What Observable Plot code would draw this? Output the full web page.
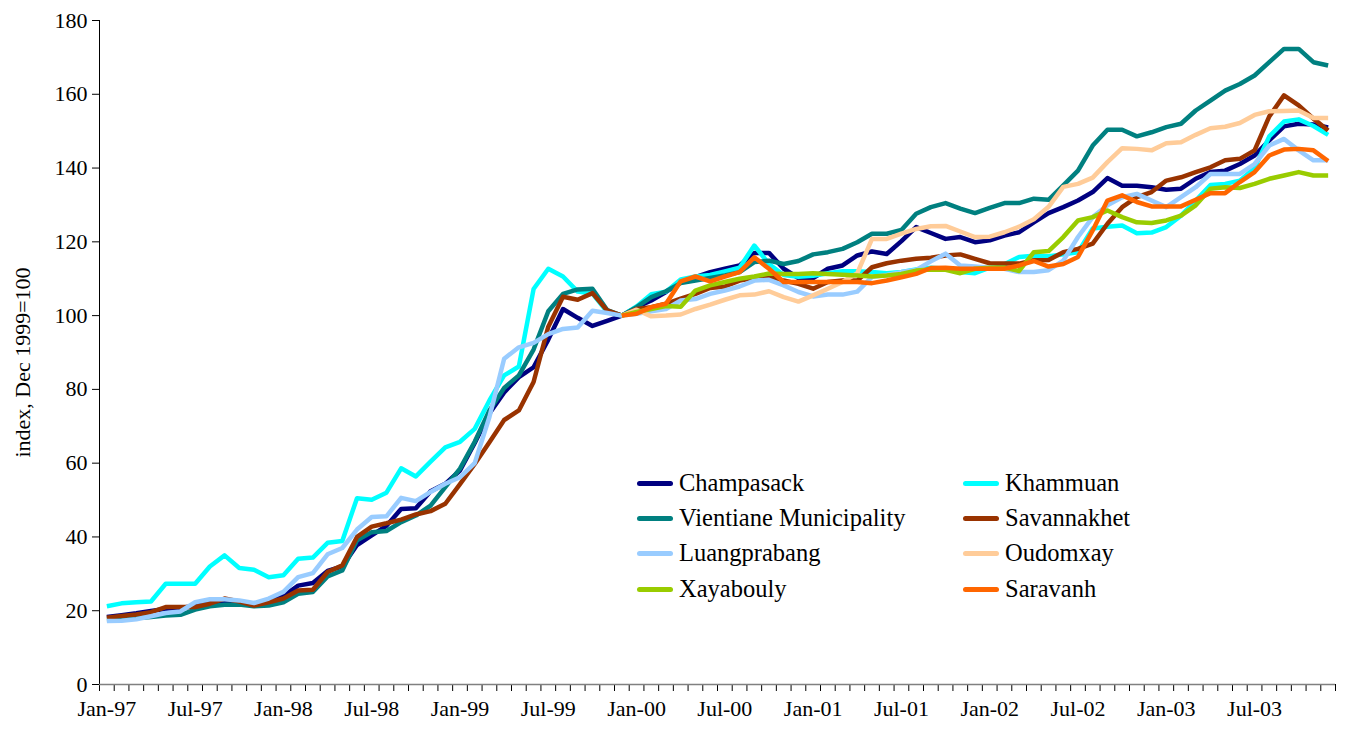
<!DOCTYPE html>
<html><head><meta charset="utf-8">
<script src="https://cdn.jsdelivr.net/npm/d3@7"></script>
<script src="https://cdn.jsdelivr.net/npm/@observablehq/plot@0.6"></script>
<style>
body{margin:0;background:#fff;}
#wrap{position:relative;width:1346px;height:738px;font-family:"Times New Roman",Tinos,"Liberation Serif","DejaVu Serif",serif;}
#wrap svg, #wrap svg text{font-family:"Times New Roman",Tinos,"Liberation Serif","DejaVu Serif",serif !important;}
.leg{position:absolute;display:flex;align-items:center;font-size:24.5px;color:#000;white-space:nowrap;transform:translateY(-50%);}
.leg .sw{width:36px;height:5px;border-radius:3px;margin-right:6px;}
</style></head><body><div id="wrap"></div>
<script>
// Monthly categories Jan-97 .. Dec-03
const months = d3.utcMonths(new Date(Date.UTC(1997,0,1)), new Date(Date.UTC(2004,0,1))).map(d3.utcFormat("%b-%y"));
const tickLabels = ["Jan-97","Jul-97","Jan-98","Jul-98","Jan-99","Jul-99","Jan-00","Jul-00","Jan-01","Jul-01","Jan-02","Jul-02","Jan-03","Jul-03"];
const yTicks = [0,20,40,60,80,100,120,140,160,180];
const yTitle = "index, Dec 1999=100";

const seriesNames = ["Champasack","Khammuan","Vientiane Municipality","Savannakhet","Luangprabang","Oudomxay","Xayabouly","Saravanh"];
const seriesColors = ["#000080","#00FFFF","#008080","#993300","#99CCFF","#FFCC99","#99CC00","#FF6600"];
// first month of each series in the months list
const seriesStart = ["Jan-97","Jan-97","Jan-97","Jan-97","Jan-97","Dec-99","Dec-99","Dec-99"];

const champasack = [18.3,18.8,19.3,19.9,20.5,20.8,21.2,22.5,22.3,22.2,21.6,22.6,24.0,26.8,27.5,30.8,32.0,37.8,40.4,43.0,47.6,47.8,52.4,54.4,58.0,65.5,73.5,79.2,83.3,86.0,93.5,101.8,99.4,97.2,98.6,100,
 102.3,104.1,106.4,109.1,110.4,111.8,112.7,113.6,117.0,117.0,112.7,110.2,110.2,112.7,113.6,116.3,117.4,116.7,120.2,124.0,122.4,120.8,121.3,119.9,120.4,121.7,122.6,125.3,127.8,129.4,131.2,133.5,137.3,135.2,135.2,134.8,134.1,134.4,137.1,138.9,139.3,141.1,143.4,147.5,151.3,152.0,151.8,151.0];
const khammuan = [21.2,22.0,22.3,22.5,27.3,27.3,27.3,32.0,35.0,31.6,31.1,29.1,29.6,34.1,34.4,38.4,38.9,50.5,50.1,52.0,58.6,56.4,60.4,64.3,65.8,69.3,77.0,83.8,86.2,107.2,112.7,110.6,106.5,106.0,101.0,100,
 102.5,105.8,106.5,109.8,110.6,111.0,112.0,113.0,119.0,114.0,111.0,110.5,110.8,111.5,112.0,112.0,111.8,111.5,111.8,112.5,113.0,112.7,111.8,111.5,113.0,113.9,115.9,116.2,116.1,116.6,117.2,123.6,124.1,124.4,122.3,122.5,124.0,127.1,131.2,135.4,135.7,136.6,140.0,148.6,152.6,153.2,151.4,149.0];
const vientiane = [17.6,17.8,18.0,18.3,18.7,18.9,20.3,21.2,21.6,21.7,21.2,21.4,22.3,24.6,25.1,29.3,30.9,39.1,41.3,41.6,44.0,45.8,48.5,53.5,58.5,65.8,74.3,80.4,83.8,90.8,101.2,105.9,107.1,107.3,101.5,100,
 102.3,105.0,106.6,108.8,109.5,110.2,110.9,111.8,114.5,114.9,114.0,114.8,116.6,117.2,118.1,119.9,122.2,122.2,123.2,127.6,129.4,130.5,129.0,127.8,129.2,130.5,130.5,131.7,131.4,135.3,139.3,146.1,150.4,150.4,148.6,149.7,151.1,152.0,155.6,158.3,161.0,162.8,165.1,168.7,172.3,172.3,168.7,167.8];
const savannakhet = [18.1,18.6,19.0,19.6,21.0,21.0,21.0,21.9,23.3,22.5,21.4,22.3,23.3,25.5,25.7,30.5,32.3,40.0,42.8,43.7,44.7,46.1,47.0,49.0,54.3,59.8,65.7,71.7,74.3,82.0,97.0,105.1,104.3,106.1,101.4,100,
 101.8,102.3,103.2,104.6,105.9,107.5,107.9,109.5,110.2,110.6,109.5,108.6,107.3,109.1,109.5,109.5,113.1,114.2,114.9,115.4,115.7,116.3,116.6,115.4,114.2,114.1,114.1,115.0,115.1,117.2,118.1,119.5,124.9,129.4,132.1,133.5,136.6,137.5,138.9,140.2,142.1,142.5,144.8,154.0,159.7,157.0,153.4,150.2];
const luangprabang = [17.2,17.3,17.7,18.5,19.4,19.8,22.3,23.1,23.1,22.8,22.1,23.3,25.1,29.1,30.2,35.3,37.0,42.0,45.4,45.6,50.6,49.7,52.2,54.4,56.2,60.0,72.5,88.3,91.4,92.6,95.0,96.4,96.8,101.3,100.7,100,
 100.5,101.2,101.8,104.1,104.5,105.9,106.8,107.9,109.5,109.7,108.2,106.4,105.2,105.7,105.7,106.5,110.5,111.0,111.8,112.4,114.7,116.8,113.6,113.3,113.0,112.7,111.8,111.8,112.3,114.9,121.3,126.7,129.9,132.1,133.0,131.2,129.4,132.1,134.8,138.4,138.4,138.4,141.1,146.1,147.9,144.8,142.1,142.1];
const oudomxay = [100,
 101.6,99.8,100.0,100.3,101.8,103.0,104.3,105.5,105.7,106.6,105.0,103.8,105.5,107.3,109.1,111.5,120.8,120.8,122.2,123.5,124.2,124.3,122.8,121.3,121.4,122.6,124.1,126.1,129.5,134.9,135.7,137.4,141.6,145.4,145.2,144.8,146.7,147.0,149.0,150.8,151.2,152.2,154.4,155.4,155.5,155.6,153.6,153.6];
const xayabouly = [100,
 101.0,101.8,102.6,102.4,106.8,108.2,109.1,110.0,110.6,111.4,111.3,111.3,111.5,111.3,111.1,110.9,110.6,110.9,111.3,112.2,112.5,112.4,111.5,112.7,113.0,113.0,112.1,117.2,117.5,121.3,125.8,126.7,128.5,126.7,125.3,125.1,125.8,127.1,129.9,134.4,134.8,134.6,135.7,137.1,138.0,138.9,138.0,138.0];
const saravanh = [100,
 100.5,102.3,103.2,109.3,110.6,109.3,110.6,111.8,115.8,112.7,109.1,109.1,109.1,109.1,109.1,109.1,108.8,109.5,110.4,111.3,112.9,113.0,112.7,112.7,112.7,112.7,113.6,114.8,113.3,114.0,115.9,123.1,131.2,132.6,130.8,129.6,129.6,129.6,131.4,133.2,133.2,136.2,138.9,143.4,145.0,145.2,144.8,141.9];

const seriesValues = [champasack,khammuan,vientiane,savannakhet,luangprabang,oudomxay,xayabouly,saravanh];

const table = [];
seriesNames.forEach((name, s) => {
  const start = months.indexOf(seriesStart[s]);
  seriesValues[s].forEach((v, k) => table.push({series: name, i: start + k, v}));
});

const labelIdx = tickLabels.map(l => months.indexOf(l));
const boundaries = d3.range(months.length + 1).map(i => i - 0.5);
const serifStack = '"Times New Roman",Tinos,"Liberation Serif","DejaVu Serif",serif';

const chart = Plot.plot({
  width: 1346, height: 738,
  marginLeft: 99, marginRight: 11, marginTop: 20, marginBottom: 54,
  style: {fontFamily: serifStack, fontSize: "22px", color: "#000", background: "#fff"},
  x: {type: "linear", domain: [-0.5, months.length - 0.5]},
  y: {domain: [0, 180]},
  color: {domain: seriesNames, range: seriesColors},
  marks: [
    Plot.axisY({ticks: yTicks, tickSize: 7, tickPadding: 5, label: null, fontSize: 22}),
    Plot.axisX({ticks: boundaries, tickSize: 7, tickFormat: () => "", label: null}),
    Plot.axisX({ticks: labelIdx, tickSize: 0, tickPadding: 16, tickFormat: i => months[i], label: null, fontSize: 22}),
    Plot.ruleX([-0.5], {stroke: "#000"}),
    Plot.ruleY([0], {stroke: "#808080", strokeWidth: 1.5}),
    Plot.line(table, {x: "i", y: "v", z: "series", stroke: "series", strokeWidth: 4.5, strokeLinejoin: "round", strokeLinecap: "butt"}),
    Plot.text([yTitle], {frameAnchor: "left", textAnchor: "middle", dx: -77, dy: 10, rotate: -90, fontSize: 22, fill: "#000"})
  ]
});

const wrap = document.getElementById("wrap");
wrap.appendChild(chart);

// Legend inside the plot area (2 columns, row-major in series order)
const legCols = [637, 963];
const legRows = [483, 518, 553, 589];
seriesNames.forEach((name, s) => {
  const d = document.createElement("div");
  d.className = "leg";
  d.style.left = legCols[s % 2] + "px";
  d.style.top = legRows[Math.floor(s / 2)] + "px";
  const sw = document.createElement("span");
  sw.className = "sw";
  sw.style.background = seriesColors[s];
  const t = document.createElement("span");
  t.textContent = name;
  d.appendChild(sw); d.appendChild(t);
  wrap.appendChild(d);
});
</script>
</body></html>
